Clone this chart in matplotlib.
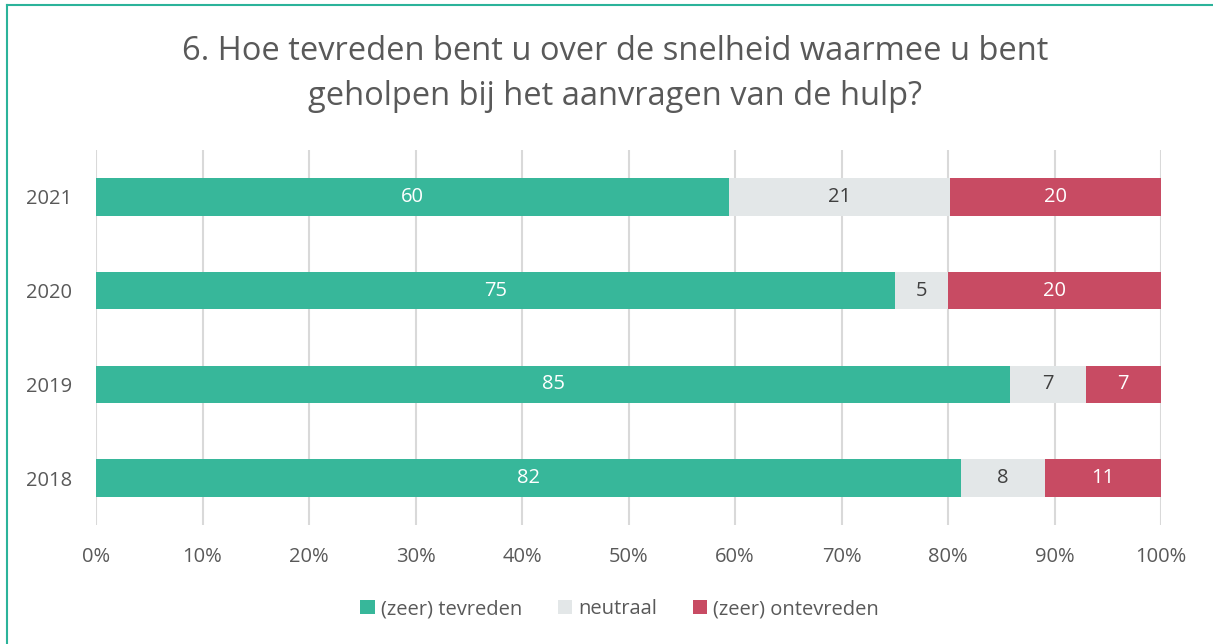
import matplotlib
matplotlib.use("Agg")
import matplotlib.pyplot as plt
import numpy as np
from matplotlib.lines import Line2D
from matplotlib.patches import Patch

plt.rcParams['font.family'] = ['Open Sans', 'DejaVu Sans']

years = ['2018', '2019', '2020', '2021']
tevreden = [82, 85, 75, 60]
neutraal = [8, 7, 5, 21]
ontevreden = [11, 7, 20, 20]
series_names = ['(zeer) tevreden', 'neutraal', '(zeer) ontevreden']
colors = ['#37B79A', '#E3E7E8', '#C84B63']
label_colors = ['white', '#404040', 'white']
title = '6. Hoe tevreden bent u over de snelheid waarmee u bent\ngeholpen bij het aanvragen van de hulp?'

TXT = '#595959'

fig = plt.figure(figsize=(12.13, 6.44), dpi=100)
ax = fig.add_axes([96/1213, 1-525/644, (1161-96)/1213, 375/644])

data = np.array([tevreden, neutraal, ontevreden], dtype=float)
totals = data.sum(axis=0)
pct = data / totals
y = np.arange(len(years))
left = np.zeros(len(years))
for i in range(3):
    bars = ax.barh(y, pct[i], left=left, height=0.40, color=colors[i], zorder=3)
    for j in range(len(years)):
        ax.text(left[j] + pct[i][j]/2, y[j], f'{int(data[i][j])}', ha='center', va='center',
                color=label_colors[i], fontsize=14.5, zorder=4)
    left += pct[i]

ax.set_xlim(0, 1)
ax.set_ylim(-0.5, 3.5)
ax.set_xticks(np.linspace(0, 1, 11))
ax.set_xticklabels([f'{int(v)}%' for v in np.linspace(0, 100, 11)])
ax.set_yticks(y)
ax.set_yticklabels(years)
ax.grid(axis='x', color='#D9D9D9', linewidth=1.5, zorder=0)
for s in ax.spines.values():
    s.set_visible(False)
ax.tick_params(axis='both', length=0, labelsize=14.5, colors=TXT)
ax.tick_params(axis='x', pad=16)
ax.tick_params(axis='y', pad=17)

fig.text(0.507, 1-74/644, title, ha='center', va='center', fontsize=23.5, color=TXT, linespacing=1.45)

handles = [Patch(facecolor=c, edgecolor='none') for c in colors]
fig.legend(handles, series_names, loc='center', bbox_to_anchor=(0.511, 1-609/644), ncol=3,
           frameon=False, fontsize=14.5, labelcolor=TXT, handlelength=0.7, handleheight=0.7,
           handletextpad=0.3, columnspacing=1.8)

# border
fig.add_artist(Line2D([7/1213, 7/1213], [-0.1, 1-5/644], transform=fig.transFigure, color='#2BB39A', lw=1.5))
fig.add_artist(Line2D([7/1213, 1.1], [1-5/644, 1-5/644], transform=fig.transFigure, color='#2BB39A', lw=1.5))

fig.savefig('out.png', dpi=100)
